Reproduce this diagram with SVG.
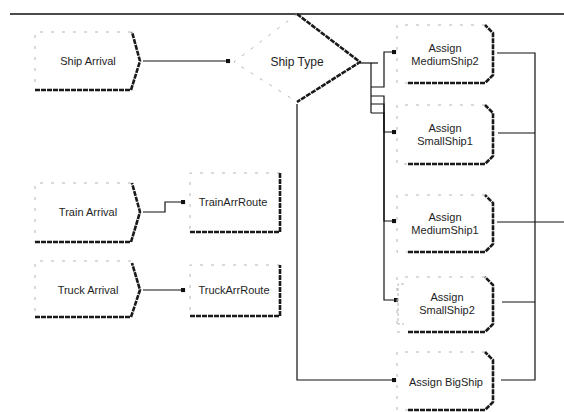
<svg xmlns="http://www.w3.org/2000/svg" width="564" height="412" viewBox="0 0 564 412">
<style>
.dark{stroke:#1a1a1a;stroke-width:2.6;fill:none;stroke-linejoin:round;stroke-dasharray:5 1}
.light{stroke:#b5b5b5;stroke-width:1;fill:none;stroke-dasharray:3 8}
.conn{stroke:#111;stroke-width:1.2;fill:none}
text{font-family:"Liberation Sans",Arial,sans-serif;font-size:11px;fill:#1e1e1e;text-anchor:middle}
</style>
<defs>
<marker id="dot" viewBox="0 0 6 6" refX="3" refY="3" markerWidth="5" markerHeight="5" markerUnits="userSpaceOnUse">
<rect x="0.5" y="0.5" width="5" height="5" fill="#111"/>
</marker>
</defs>
<rect width="564" height="412" fill="#fff"/>
<path d="M10,14 H564" stroke="#111" stroke-width="1.6" fill="none"/>

<g id="connectors">
<path class="conn" d="M143,61 H228" marker-end="url(#dot)"/>
<path class="conn" d="M143,212 H165 V202 H183" marker-end="url(#dot)"/>
<path class="conn" d="M143,290 H183" marker-end="url(#dot)"/>
<path class="conn" d="M360,63 H378"/>
<path class="conn" d="M371,63 V113"/>
<path class="conn" d="M371,87 H384 V52 H394" marker-end="url(#dot)"/>
<path class="conn" d="M371,96 H384 V132 H394" marker-end="url(#dot)"/>
<path class="conn" d="M371,104 H384 V221 H394" marker-end="url(#dot)"/>
<path class="conn" d="M371,113 H384 V300 H396" marker-end="url(#dot)"/>
<path class="conn" d="M297,104 V380 H394" marker-end="url(#dot)"/>
<path class="conn" d="M497,53 H535 V380 H501"/>
<path class="conn" d="M498,133 H535"/>
<path class="conn" d="M497,222 H564"/>
<path class="conn" d="M502,302 H535"/>
</g>

<g id="ship_arrival">
<path class="light" d="M131,32 H35 V90"/>
<path class="dark" d="M35,90 H131 L140,61 L132,32"/>
<text x="88" y="65">Ship Arrival</text>
</g>

<g id="train_arrival">
<path class="light" d="M131,183 H35 V242"/>
<path class="dark" d="M35,242 H131 L140,212 L132,183"/>
<text x="88" y="216">Train Arrival</text>
</g>

<g id="truck_arrival">
<path class="light" d="M131,261 H35 V317"/>
<path class="dark" d="M35,317 H131 L140,290 L132,263"/>
<text x="88" y="294">Truck Arrival</text>
</g>

<g id="train_arr_route">
<path class="light" d="M280,173 H190 V232"/>
<path class="dark" d="M190,232 H280 V173"/>
<text x="233" y="206">TrainArrRoute</text>
</g>

<g id="truck_arr_route">
<path class="light" d="M280,265 H190 V316"/>
<path class="dark" d="M190,316 H280 V265"/>
<text x="234" y="294">TruckArrRoute</text>
</g>

<g id="ship_type">
<path class="light" d="M297,14 L234,62 L297,102"/>
<path class="dark" d="M297,14 L360,62 L297,102"/>
<text x="297" y="66" style="font-size:12px">Ship Type</text>
</g>

<g id="assign_mediumship2">
<path class="light" d="M485,25 H397 V83 H408"/>
<path class="dark" d="M408,83 H485 L493,75 V33 L485,25"/>
<text x="445" y="52">Assign</text>
<text x="445" y="65">MediumShip2</text>
</g>

<g id="assign_smallship1">
<path class="light" d="M485,105 H397 V164 H408"/>
<path class="dark" d="M408,164 H485 L493,156 V113 L485,105"/>
<text x="445" y="132">Assign</text>
<text x="445" y="145">SmallShip1</text>
</g>

<g id="assign_mediumship1">
<path class="light" d="M485,195 H397 V252 H408"/>
<path class="dark" d="M408,252 H485 L493,244 V203 L485,195"/>
<text x="445" y="221">Assign</text>
<text x="445" y="234">MediumShip1</text>
</g>

<g id="assign_smallship2">
<path class="light" d="M485,277 H397 V332 H408"/>
<path class="light" d="M404,284 H398 V324 H404" style="stroke-dasharray:3 2"/>
<path class="dark" d="M408,332 H485 L493,324 V285 L485,277"/>
<text x="447" y="301">Assign</text>
<text x="447" y="314">SmallShip2</text>
</g>

<g id="assign_bigship">
<path class="light" d="M485,352 H397 V410 H408"/>
<path class="dark" d="M408,410 H485 L493,402 V360 L485,352"/>
<text x="446" y="386">Assign BigShip</text>
</g>
</svg>
